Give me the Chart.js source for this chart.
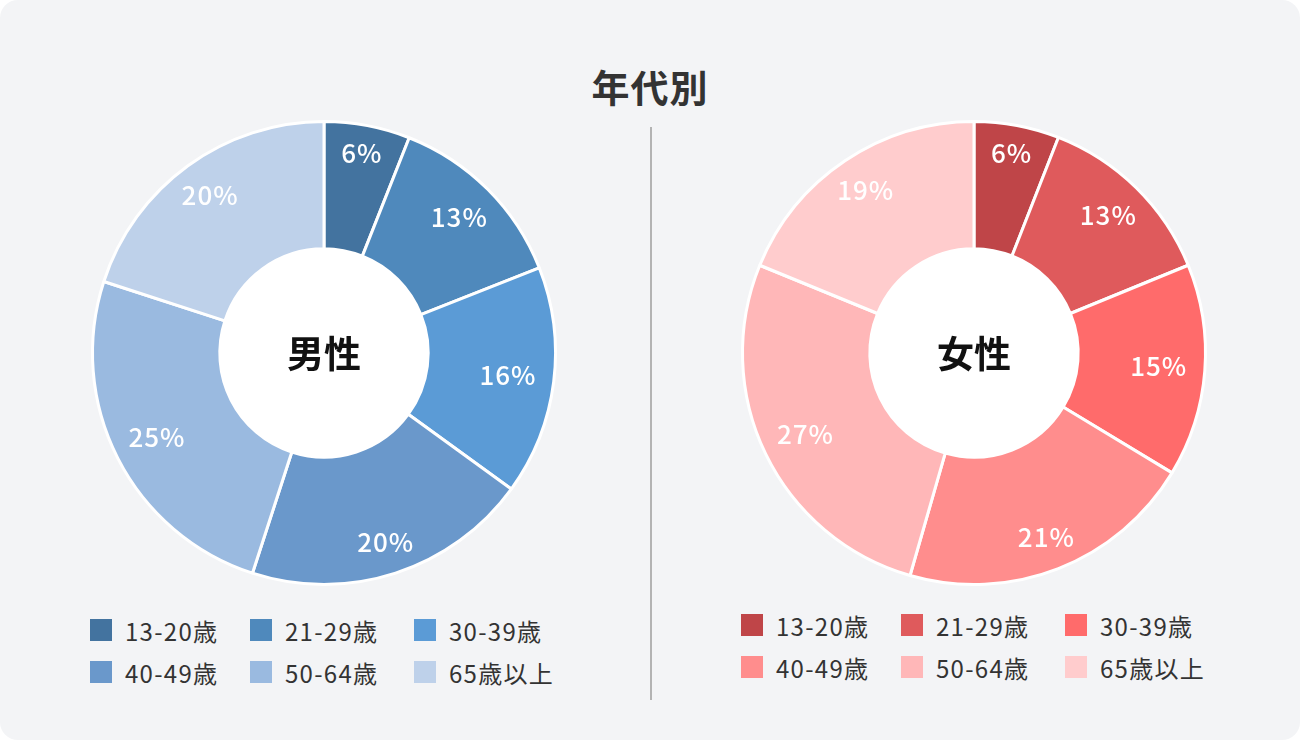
<!DOCTYPE html>
<html lang="ja">
<head>
  <meta charset="UTF-8" />
  <title>年代別</title>
  <style>
    html, body {
      margin: 0;
      padding: 0;
      background: #fff;
      font-family: "Noto Sans CJK JP", "Noto Sans", sans-serif;
    }
    .card {
      position: relative;
      width: 1300px;
      height: 740px;
      background: #f3f4f6;
      border-radius: 18px;
      overflow: hidden;
    }
    h1 {
      position: absolute;
      left: 0;
      right: 0;
      top: 67px;
      margin: 0;
      text-align: center;
      font-size: 38px;
      font-weight: 700;
      color: #333;
      line-height: 1;
      letter-spacing: 1px;
    }
    .divider {
      position: absolute;
      left: 650px;
      top: 127px;
      width: 2px;
      height: 573px;
      background: #b3b3b3;
    }
    .chart-box {
      position: absolute;
      top: 113px;
      width: 480px;
      height: 480px;
    }
    .legend {
      position: absolute;
      display: grid;
      grid-template-columns: 160px 164px 160px;
      row-gap: 20px;
    }
    .legend-item {
      display: flex;
      align-items: center;
      height: 22px;
      font-size: 24px;
      color: #333;
      letter-spacing: 1.3px;
      white-space: nowrap;
    }
    .legend-item .box {
      width: 22px;
      height: 22px;
      margin-right: 13px;
      flex: none;
    }
  </style>
</head>
<body>
  <div class="card">
    <h1>年代別</h1>
    <div class="divider"></div>
    <div class="chart-box" style="left:84px"><canvas id="male" width="480" height="480"></canvas></div>
    <div class="chart-box" style="left:734px"><canvas id="female" width="480" height="480"></canvas></div>
    <div class="legend" id="legend-male" style="left:90px; top:619px"></div>
    <div class="legend" id="legend-female" style="left:741px; top:614px"></div>
  </div>

  <script src="https://cdn.jsdelivr.net/npm/chart.js"></script>
  <script>
    const categories = ['13-20歳', '21-29歳', '30-39歳', '40-49歳', '50-64歳', '65歳以上'];
    const maleValues = [6, 13, 16, 20, 25, 20];
    const femaleValues = [6, 13, 15, 21, 27, 19];
    const maleColors = ['#43739f', '#4f89bc', '#5b9bd6', '#6a98cb', '#9abae0', '#bed1ea'];
    const femaleColors = ['#bf4548', '#df5a5c', '#ff6b6b', '#ff8d8d', '#ffb7b8', '#ffcccd'];

    const FONT = '"Noto Sans CJK JP", "Noto Sans", sans-serif';

    // 中央の白い円とラベル
    const centerPlugin = {
      id: 'centerLabel',
      beforeDatasetsDraw(chart) {
        const arc = chart.getDatasetMeta(0).data[0];
        if (!arc) return;
        const { x, y, innerRadius } = arc.getProps(['x', 'y', 'innerRadius'], true);
        const ctx = chart.ctx;
        ctx.save();
        ctx.beginPath();
        ctx.arc(x, y, innerRadius, 0, Math.PI * 2);
        ctx.fillStyle = '#fff';
        ctx.fill();
        ctx.restore();
      },
      afterDatasetsDraw(chart, args, opts) {
        const arc = chart.getDatasetMeta(0).data[0];
        if (!arc) return;
        const { x, y } = arc.getProps(['x', 'y'], true);
        const ctx = chart.ctx;
        ctx.save();
        ctx.font = `700 37px ${FONT}`;
        ctx.fillStyle = '#111';
        ctx.textAlign = 'center';
        ctx.textBaseline = 'middle';
        ctx.fillText(opts.text, x, y + 1);
        ctx.restore();
      }
    };

    // 各セグメントのパーセント表示（外側寄り、横方向ほど少し内側）
    const percentPlugin = {
      id: 'percentLabels',
      afterDatasetsDraw(chart) {
        const ctx = chart.ctx;
        const values = chart.data.datasets[0].data;
        chart.getDatasetMeta(0).data.forEach((arc, i) => {
          const p = arc.getProps(['x', 'y', 'startAngle', 'endAngle', 'outerRadius'], true);
          const mid = (p.startAngle + p.endAngle) / 2;
          const r = p.outerRadius * (0.89 - 0.09 * Math.abs(Math.cos(mid)));
          ctx.save();
          ctx.font = `500 26px ${FONT}`;
          ctx.letterSpacing = '1px';
          ctx.fillStyle = '#fff';
          ctx.textAlign = 'center';
          ctx.textBaseline = 'middle';
          ctx.fillText(values[i] + '%', p.x + Math.cos(mid) * r, p.y + Math.sin(mid) * r - 1);
          ctx.restore();
        });
      }
    };

    function makeChart(id, values, colors, label) {
      return new Chart(document.getElementById(id), {
        type: 'doughnut',
        data: {
          labels: categories,
          datasets: [{
            data: values,
            backgroundColor: colors,
            borderColor: '#fff',
            borderWidth: 3,
            hoverOffset: 0
          }]
        },
        options: {
          responsive: false,
          animation: false,
          cutout: '45%',
          layout: { padding: 7 },
          events: [],
          plugins: {
            legend: { display: false },
            tooltip: { enabled: false },
            centerLabel: { text: label }
          }
        },
        plugins: [centerPlugin, percentPlugin]
      });
    }

    function makeLegend(id, colors) {
      const el = document.getElementById(id);
      categories.forEach((cat, i) => {
        const item = document.createElement('div');
        item.className = 'legend-item';
        const box = document.createElement('span');
        box.className = 'box';
        box.style.background = colors[i];
        const text = document.createElement('span');
        text.textContent = cat;
        item.appendChild(box);
        item.appendChild(text);
        el.appendChild(item);
      });
    }

    makeChart('male', maleValues, maleColors, '男性');
    makeChart('female', femaleValues, femaleColors, '女性');
    makeLegend('legend-male', maleColors);
    makeLegend('legend-female', femaleColors);
  </script>
</body>
</html>
